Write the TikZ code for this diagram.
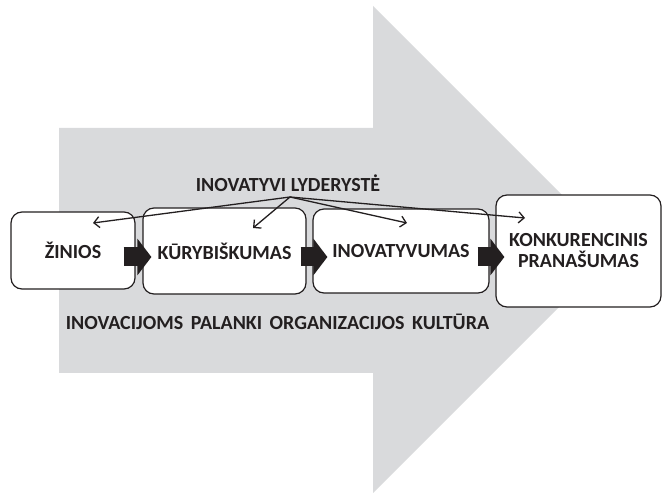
\documentclass[tikz,border=0pt]{standalone}
\usepackage{fontspec}
\setmainfont{Carlito}
\usetikzlibrary{arrows.meta,calc}
\definecolor{bggray}{RGB}{217,218,220}
\definecolor{ink}{RGB}{35,31,32}
\begin{document}
\begin{tikzpicture}[x=1pt,y=-1pt,
  lbl/.style={text=ink, font=\bfseries\fontsize{20}{21}\selectfont, align=center, inner sep=0pt},
  box/.style={lbl, draw=ink, fill=white, line width=1.2pt, rounded corners=11pt},
  blk/.style={draw=ink, line width=19pt, line cap=butt, -{Triangle[length=14pt,width=36pt]}},
  lead/.style={draw=ink, line width=1.3pt, -{Straight Barb[length=5.5pt,width=11pt]}}]
\useasboundingbox (0,0) rectangle (662,494);
% big grey arrow
\fill[bggray] (59,128) -- (373,128) -- (373,6) -- (616.5,249.5) -- (373,493) -- (373,373) -- (59,373) -- cycle;
% boxes
\node[box, minimum width=124pt, minimum height=77pt] (zin) at (73,250.5) {ŽINIOS};
\node[box, minimum width=163pt, minimum height=86pt] (kur) at (224.5,251) {KŪRYBIŠKUMAS};
\node[box, minimum width=176pt, minimum height=84pt] (inov) at (401,251) {INOVATYVUMAS};
\node[box, minimum width=165pt, minimum height=112pt] (konk) at (578.5,251) {KONKURENCINIS\\PRANAŠUMAS};
% block arrows
\coordinate (ay) at (0,257);
\draw[blk] ([xshift=-12pt]zin.east |- ay) -- ([xshift=9pt]kur.west |- ay);
\draw[blk] ([xshift=-6pt]kur.east |- ay) -- ([xshift=15pt]inov.west |- ay);
\draw[blk] ([xshift=-12pt]inov.east |- ay) -- ([xshift=9pt]konk.west |- ay);
% leadership
\node[lbl] (lead) at (288,183) {INOVATYVI LYDERYSTĖ};
\coordinate (src) at (290,197);
\coordinate (e1) at (93,223);
\coordinate (e2) at (253,228);
\coordinate (e3) at (407,223);
\coordinate (e4) at (525,218);
\draw[lead] (src) -- (e1);
\draw[lead] (src) -- (e2);
\draw[lead] (src) -- (e3);
\draw[lead] (src) -- (e4);
% culture
\node[lbl] (cult) at (277.5,322) {INOVACIJOMS\hspace{0.15em} PALANKI\hspace{0.15em} ORGANIZACIJOS\hspace{0.15em} KULTŪRA};
\end{tikzpicture}
\end{document}
